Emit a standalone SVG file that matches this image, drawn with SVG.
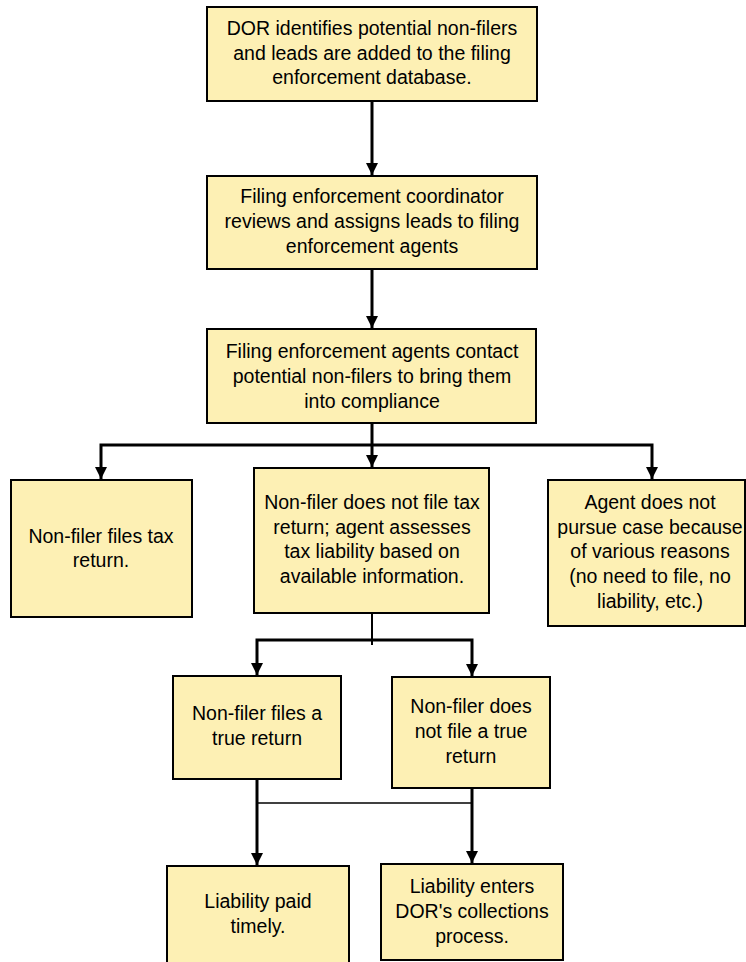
<svg xmlns="http://www.w3.org/2000/svg" width="746" height="962" viewBox="0 0 746 962">
<style>
.box{fill:#FDF0B4;stroke:#000;stroke-width:2}
.t{font-family:"Liberation Sans",Arial,sans-serif;font-size:19.5px;fill:#000;text-anchor:middle}
.c{fill:none;stroke:#000;stroke-width:3}
.thin{fill:none;stroke:#000;stroke-width:2}
.thin1{fill:none;stroke:#000;stroke-width:1.5}
</style>
<defs>
<marker id="ah" viewBox="0 0 10 10" refX="10" refY="5" markerWidth="4" markerHeight="4" orient="auto" markerUnits="strokeWidth">
<path d="M0,0 L10,5 L0,10 Z" fill="#000"/>
</marker>
</defs>
<rect width="746" height="962" fill="#fff"/>
<g id="connectors">
<path class="c" d="M372,101 V175" marker-end="url(#ah)"/>
<path class="c" d="M372,269 V328" marker-end="url(#ah)"/>
<path class="c" d="M372,423 V467" marker-end="url(#ah)"/>
<path class="c" d="M372,445 H101 V479" marker-end="url(#ah)"/>
<path class="c" d="M372,445 H652 V479" marker-end="url(#ah)"/>
<path class="thin" d="M372,613 V645"/>
<path class="c" d="M372,640 H257 V675" marker-end="url(#ah)"/>
<path class="c" d="M372,640 H472 V676" marker-end="url(#ah)"/>
<path class="c" d="M257,779 V865" marker-end="url(#ah)"/>
<path class="c" d="M472,788 V863" marker-end="url(#ah)"/>
<path class="thin1" d="M257,803 H472"/>
</g>
<g id="n1"><rect class="box" x="207" y="7" width="330" height="94"/>
<text class="t" x="372" y="35">DOR identifies potential non-filers</text>
<text class="t" x="372" y="60">and leads are added to the filing</text>
<text class="t" x="372" y="84">enforcement database.</text></g>
<g id="n2"><rect class="box" x="207" y="176" width="330" height="93"/>
<text class="t" x="372" y="203">Filing enforcement coordinator</text>
<text class="t" x="372" y="228">reviews and assigns leads to filing</text>
<text class="t" x="372" y="253">enforcement agents</text></g>
<g id="n3"><rect class="box" x="207" y="329" width="329" height="94"/>
<text class="t" x="372" y="358">Filing enforcement agents contact</text>
<text class="t" x="372" y="383">potential non-filers to bring them</text>
<text class="t" x="372" y="408">into compliance</text></g>
<g id="n4"><rect class="box" x="11" y="480" width="181" height="137"/>
<text class="t" x="101" y="543">Non-filer files tax</text>
<text class="t" x="101" y="567">return.</text></g>
<g id="n5"><rect class="box" x="254" y="468" width="235" height="145"/>
<text class="t" x="372" y="509">Non-filer does not file tax</text>
<text class="t" x="372" y="534">return; agent assesses</text>
<text class="t" x="372" y="558">tax liability based on</text>
<text class="t" x="372" y="583">available information.</text></g>
<g id="n6"><rect class="box" x="548" y="480" width="197" height="146"/>
<text class="t" x="650" y="509">Agent does not</text>
<text class="t" x="650" y="534">pursue case because</text>
<text class="t" x="650" y="558">of various reasons</text>
<text class="t" x="650" y="583">(no need to file, no</text>
<text class="t" x="650" y="608">liability, etc.)</text></g>
<g id="n7"><rect class="box" x="173" y="676" width="168" height="103"/>
<text class="t" x="257" y="720">Non-filer files a</text>
<text class="t" x="257" y="745">true return</text></g>
<g id="n8"><rect class="box" x="392" y="677" width="158" height="111"/>
<text class="t" x="471" y="713">Non-filer does</text>
<text class="t" x="471" y="738">not file a true</text>
<text class="t" x="471" y="763">return</text></g>
<g id="n9"><rect class="box" x="167" y="866" width="182" height="110"/>
<text class="t" x="258" y="908">Liability paid</text>
<text class="t" x="258" y="933">timely.</text></g>
<g id="n10"><rect class="box" x="381" y="864" width="182" height="96"/>
<text class="t" x="472" y="893">Liability enters</text>
<text class="t" x="472" y="918">DOR's collections</text>
<text class="t" x="472" y="943">process.</text></g>
</svg>
